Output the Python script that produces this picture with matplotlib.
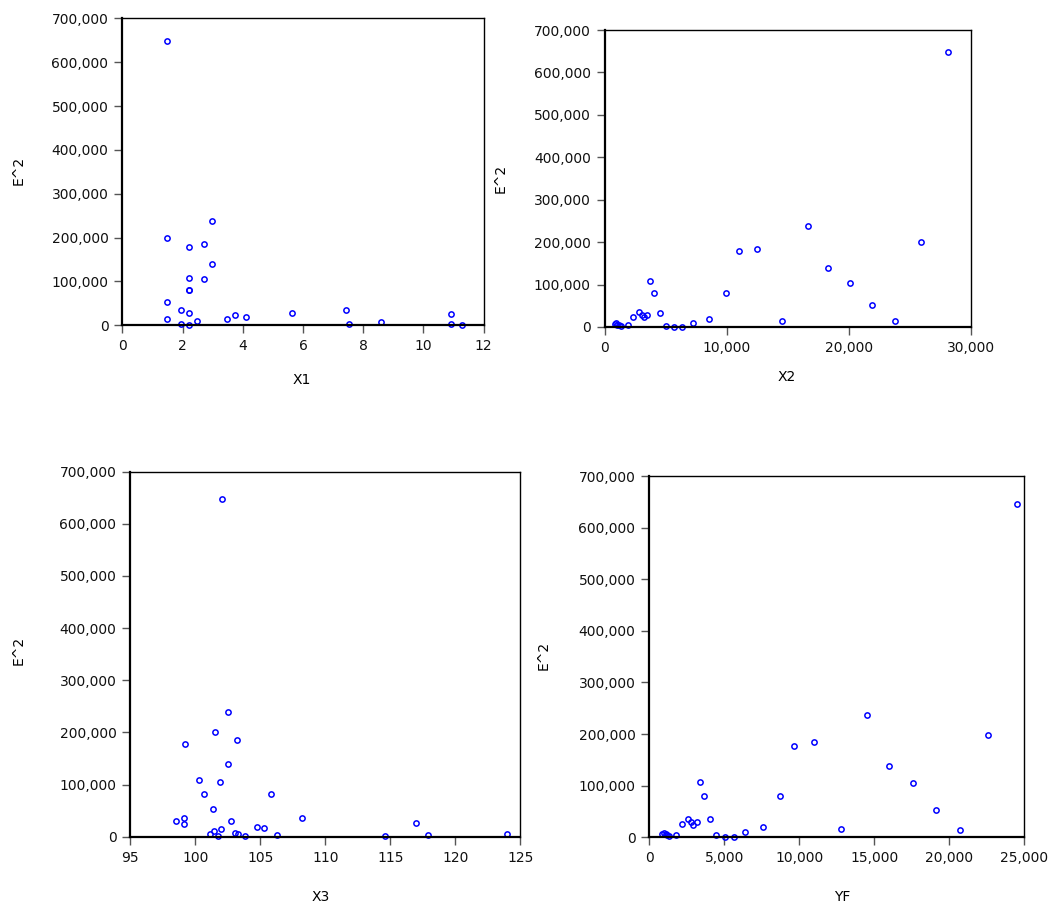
import matplotlib
matplotlib.use("Agg")
from matplotlib import pyplot as plt
from matplotlib.ticker import FuncFormatter

# residual squared (E^2) against each regressor
x1 = [1.48, 2.97, 1.48, 2.23, 2.72, 2.97, 2.23, 2.72, 2.23, 2.23, 1.48, 1.96, 2.23, 1.48,
      1.96, 2.23, 2.48, 3.46, 3.74, 4.10, 5.63, 7.43, 7.52, 8.59, 10.92, 10.92, 11.27]
e2_x1 = [648000, 238000, 199000, 177700, 185000, 139700, 107600, 105000, 80000, 80000, 52000,
         34400, 29000, 13700, 3700, 700, 10500, 14400, 23600, 18300, 28000, 34400, 3700, 6900,
         25000, 3000, 1400]

x2 = [820, 930, 1040, 1150, 1310, 1870, 2320, 2790, 3040, 3250, 3470, 3720, 4050, 4530, 5020,
      5680, 6340, 7230, 8560, 9940, 10980, 12480, 14530, 16660, 18280, 20130, 21930, 23760,
      25920, 28160]
e2_x2 = [6400, 8700, 5400, 4000, 3000, 4000, 24400, 34800, 28400, 23000, 28400, 108000, 79700,
         33800, 3100, 1000, 1000, 10200, 18100, 79700, 178000, 185000, 14200, 238000, 139500,
         104800, 52000, 13500, 199300, 648000]

x3 = [102.03, 102.52, 101.52, 103.21, 99.23, 102.52, 100.31, 101.92, 100.65, 105.80, 101.34,
      98.54, 99.13, 99.13, 102.72, 108.21, 104.72, 105.31, 101.13, 101.44, 101.75, 101.95,
      103.03, 103.31, 103.82, 106.31, 114.59, 117.00, 117.88, 123.98]
e2_x3 = [647700, 238600, 200200, 186000, 178400, 140000, 108700, 105500, 81300, 81300, 53100,
         30100, 35300, 24400, 29500, 35900, 19200, 16100, 4600, 11200, 2000, 14800, 8000, 4900,
         1800, 4200, 2000, 26300, 2700, 4600]

yf = [867, 980, 1093, 1200, 1313, 1760, 2160, 2560, 2760, 2933, 3160, 3360, 3667, 4067, 4467,
      5047, 5667, 6380, 7560, 8733, 9627, 10960, 12760, 14540, 15960, 17560, 19113, 20713,
      22580, 24533]
e2_yf = [6400, 8300, 5800, 3900, 3100, 5000, 25600, 35000, 29500, 23000, 29500, 107700, 80000,
         34600, 4500, 1500, 1000, 10800, 19200, 80000, 177000, 184000, 15400, 236000, 139000,
         105000, 52500, 14600, 198000, 645000]

W, H = 1051, 905
fig = plt.figure(figsize=(W / 100, H / 100), dpi=100)
plt.rcParams['font.family'] = ['DejaVu Sans']

comma = FuncFormatter(lambda v, p: f"{int(v):,}")


def panel(box, xs, ys, xlim, xticks, name, xlab_pos, ylab_pos):
    # box is (left, top, right, bottom) in pixels
    l, t, r, b = box
    ax = fig.add_axes([l / W, 1 - b / H, (r - l) / W, (b - t) / H])
    ax.plot(xs, ys, 'o', ls='none', mfc='none', mec=(0, 0, 1), ms=3.8, mew=1.1, clip_on=False)
    ax.set_xlim(*xlim)
    ax.set_ylim(0, 700000)
    ax.set_xticks(xticks)
    ax.set_yticks(range(0, 700001, 100000))
    ax.yaxis.set_major_formatter(comma)
    ax.xaxis.set_major_formatter(comma)
    ax.tick_params(direction='out', length=6, width=1, color='#555555', labelsize=10,
                   pad=4, labelcolor='#111111')
    for s in ['left', 'bottom']:
        ax.spines[s].set_linewidth(1.6)
    for s in ['top', 'right']:
        ax.spines[s].set_linewidth(1.0)
    ax.set_xlabel(name, fontsize=10)
    ax.set_ylabel('E^2', fontsize=10)
    ax.xaxis.set_label_coords(xlab_pos[0] / W, 1 - xlab_pos[1] / H, transform=fig.transFigure)
    ax.yaxis.set_label_coords(ylab_pos[0] / W, 1 - ylab_pos[1] / H, transform=fig.transFigure)
    return ax


panel((122.3, 18.3, 483.7, 325.3), x1, e2_x1, (0, 12), range(0, 13, 2), 'X1',
      (302, 373), (26, 170))
panel((604.7, 30, 970.7, 327), x2, e2_x2, (0, 30000), range(0, 30001, 10000), 'X2',
      (787, 370), (508, 178))
panel((130.3, 471.7, 520.3, 836.7), x3, e2_x3, (95, 125), range(95, 126, 5), 'X3',
      (321, 890), (26, 650))
panel((649.3, 476, 1024.3, 837.3), yf, e2_yf, (0, 25000), range(0, 25001, 5000), 'YF',
      (842, 890), (551, 655))

fig.savefig('out.png', dpi=100)
